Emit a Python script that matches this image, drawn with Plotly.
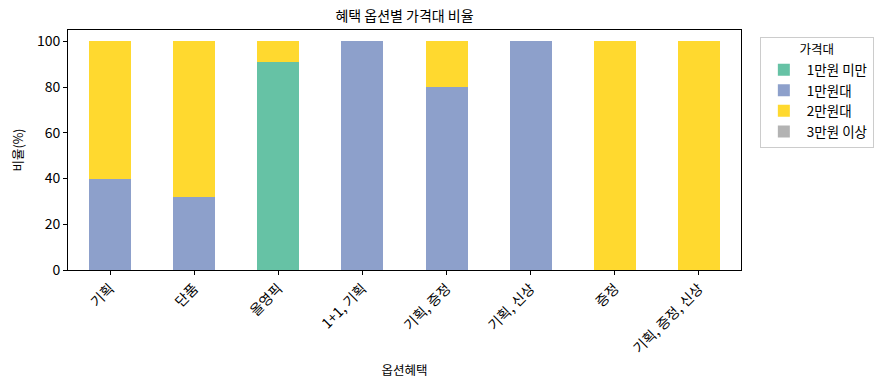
import plotly.graph_objects as go

categories = ["기획", "단품", "올영픽", "1+1, 기획", "기획, 증정", "기획, 신상", "증정", "기획, 증정, 신상"]
under_10k = [0, 0, 91, 0, 0, 0, 0, 0]
range_10k = [40, 32, 0, 100, 80, 100, 0, 0]
range_20k = [60, 68, 9, 0, 20, 0, 100, 100]
over_30k = [0, 0, 0, 0, 0, 0, 0, 0]

series_names = ["1만원 미만", "1만원대", "2만원대", "3만원 이상"]
series_values = [under_10k, range_10k, range_20k, over_30k]
colors = ["#66c2a5", "#8da0cb", "#ffd92f", "#b3b3b3"]

font_family = "Noto Sans CJK KR, Noto Sans, sans-serif"

fig = go.Figure()
for name, vals, c in zip(series_names, series_values, colors):
    fig.add_trace(go.Bar(x=list(range(len(categories))), y=vals, name=name,
                         marker=dict(color=c, line=dict(width=0)), width=0.5))

fig.update_layout(
    barmode="stack",
    width=889, height=390,
    margin=dict(l=68, r=148, t=30, b=120),
    paper_bgcolor="white", plot_bgcolor="white",
    font=dict(family=font_family, size=13, color="black"),
    title=dict(text="혜택 옵션별 가격대 비율", x=0.5, xref="paper", xanchor="center",
               y=1 - 16 / 390, yanchor="middle", font=dict(size=14)),
    legend=dict(title=dict(text="가격대", side="top center", font=dict(size=12.5)),
                x=1.028, xanchor="left", y=0.97, yanchor="top",
                bordercolor="#cccccc", borderwidth=1, font=dict(size=13.5),
                traceorder="normal", itemwidth=36),
    showlegend=True,
)
fig.update_xaxes(
    tickmode="array", tickvals=list(range(len(categories))), ticktext=categories,
    tickangle=-45, range=[-0.5, 7.5], showline=True, linecolor="black", linewidth=1,
    mirror=True, ticks="outside", ticklen=4, tickcolor="black", showgrid=False,
    tickfont=dict(size=14),
    title=dict(text="옵션혜택", standoff=10, font=dict(size=12.5)),
)
fig.update_yaxes(
    range=[0, 105], tickvals=[0, 20, 40, 60, 80, 100], showline=True, linecolor="black",
    linewidth=1, mirror=True, ticks="outside", ticklen=4, tickcolor="black",
    showgrid=False, zeroline=False, tickfont=dict(size=14),
    title=dict(text="비율(%)", standoff=10, font=dict(size=12.5)),
)

fig.write_html("out.html")
